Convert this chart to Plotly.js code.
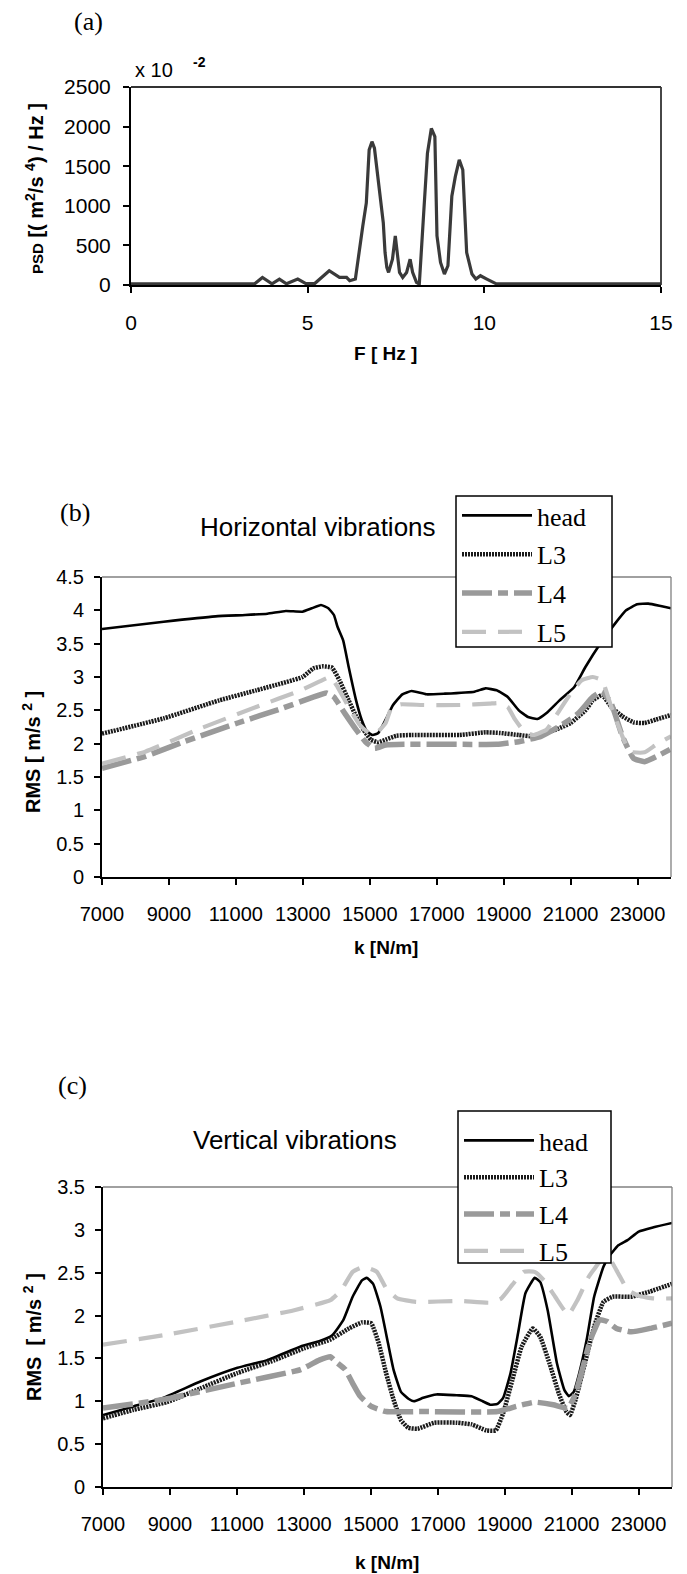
<!DOCTYPE html>
<html>
<head>
<meta charset="utf-8">
<script src="https://cdn.plot.ly/plotly-3.0.1.min.js"></script>
<style>
html,body{margin:0;padding:0;background:#fff;}
#chart{width:687px;height:1574px;}
</style>
</head>
<body>
<div id="chart"></div>
<script>
// ---------- Panel (a): PSD ----------
const psdFreq = [0, 1, 2, 3, 3.5, 3.72, 3.99, 4.2, 4.4, 4.72, 4.95, 5.2, 5.61, 5.9, 6.1, 6.19, 6.35, 6.56, 6.66, 6.74, 6.82, 6.89, 6.98, 7.08, 7.14, 7.19, 7.24, 7.29, 7.4, 7.48, 7.53, 7.6, 7.69, 7.8, 7.9, 7.97, 8.08, 8.16, 8.29, 8.39, 8.5, 8.6, 8.66, 8.76, 8.87, 8.97, 9.08, 9.18, 9.29, 9.39, 9.5, 9.65, 9.76, 9.89, 10.07, 10.23, 10.34, 11, 12, 13, 14, 15];
const psdVal = [15, 15, 15, 15, 15, 96, 15, 75, 15, 75, 18, 18, 180, 96, 96, 54, 75, 744, 1037, 1706, 1810, 1727, 1413, 1037, 786, 410, 222, 159, 326, 619, 410, 159, 96, 159, 326, 159, 33, 12, 953, 1664, 1977, 1873, 619, 284, 138, 243, 1120, 1371, 1580, 1455, 410, 138, 75, 117, 75, 33, 15, 15, 15, 15, 15, 15];

// ---------- Panel (b): Horizontal vibrations ----------
const hHeadK = [7000, 8845, 10392, 11277, 11940, 12492, 12990, 13266, 13542, 13763, 13929, 14039, 14205, 14370, 14591, 14757, 14923, 15089, 15254, 15475, 15696, 15973, 16249, 16691, 17244, 18127, 18459, 18791, 19123, 19453, 19730, 20006, 20282, 20669, 21111, 21443, 21885, 22327, 22658, 22990, 23321, 23652, 24000];
const hHeadV = [3.72, 3.83, 3.91, 3.93, 3.95, 3.99, 3.98, 4.03, 4.08, 4.03, 3.93, 3.75, 3.55, 3.15, 2.65, 2.36, 2.18, 2.13, 2.16, 2.36, 2.58, 2.74, 2.79, 2.74, 2.75, 2.78, 2.83, 2.80, 2.70, 2.50, 2.40, 2.37, 2.46, 2.65, 2.85, 3.15, 3.50, 3.80, 4.00, 4.09, 4.10, 4.07, 4.03];

const hL3K = [7000, 8845, 10503, 11608, 12990, 13321, 13597, 13873, 14094, 14370, 14591, 14812, 15033, 15254, 15475, 15807, 16249, 17685, 18459, 18901, 19453, 19895, 20558, 21000, 21443, 21664, 21940, 22217, 22548, 22880, 23211, 23542, 24000];
const hL3V = [2.15, 2.38, 2.65, 2.80, 3.00, 3.13, 3.16, 3.14, 2.95, 2.65, 2.41, 2.21, 2.06, 2.02, 2.06, 2.12, 2.13, 2.13, 2.17, 2.16, 2.13, 2.11, 2.21, 2.31, 2.50, 2.65, 2.73, 2.55, 2.41, 2.32, 2.31, 2.36, 2.43];

const hL4K = [7000, 8293, 9398, 11056, 12381, 13266, 13708, 13929, 14260, 14591, 14868, 15144, 15475, 16028, 17685, 18791, 19453, 20116, 20669, 21222, 21664, 21940, 22217, 22548, 22880, 23211, 23652, 24000];
const hL4V = [1.63, 1.81, 2.02, 2.31, 2.53, 2.69, 2.76, 2.70, 2.45, 2.21, 2.03, 1.93, 1.98, 1.99, 1.99, 1.99, 2.03, 2.11, 2.26, 2.45, 2.70, 2.78, 2.60, 2.11, 1.78, 1.73, 1.83, 1.92];

const hL5K = [7000, 8293, 9950, 11608, 12934, 13487, 13818, 14039, 14370, 14702, 14978, 15199, 15475, 15641, 15918, 16581, 17685, 18570, 18901, 19123, 19344, 19620, 19895, 20282, 20669, 21000, 21332, 21664, 21940, 22217, 22548, 22769, 23211, 23542, 24000];
const hL5V = [1.70, 1.88, 2.23, 2.55, 2.80, 2.93, 3.00, 2.85, 2.55, 2.28, 2.16, 2.16, 2.31, 2.53, 2.59, 2.58, 2.58, 2.60, 2.61, 2.55, 2.36, 2.18, 2.13, 2.21, 2.50, 2.75, 2.95, 3.00, 2.95, 2.55, 2.11, 1.88, 1.87, 1.98, 2.11];

// ---------- Panel (c): Vertical vibrations ----------
const vHeadK = [7000, 7910, 8798, 9908, 11018, 11906, 12905, 13460, 13849, 14182, 14459, 14737, 14881, 15070, 15292, 15514, 15680, 15902, 16124, 16291, 16568, 16957, 17567, 18011, 18344, 18566, 18788, 18955, 19177, 19399, 19621, 19898, 20065, 20287, 20564, 20786, 20919, 21064, 21230, 21452, 21674, 21952, 22118, 22396, 22673, 23006, 23450, 24000];
const vHeadV = [0.84, 0.94, 1.04, 1.23, 1.39, 1.48, 1.64, 1.70, 1.77, 1.95, 2.22, 2.41, 2.44, 2.37, 2.10, 1.68, 1.37, 1.11, 1.03, 1.00, 1.04, 1.08, 1.07, 1.06, 1.00, 0.96, 0.97, 1.04, 1.33, 1.79, 2.26, 2.44, 2.39, 2.06, 1.44, 1.13, 1.06, 1.11, 1.33, 1.72, 2.22, 2.57, 2.69, 2.82, 2.88, 2.98, 3.03, 3.08];

const vL3K = [7000, 7910, 8909, 9908, 11018, 12128, 13016, 13793, 14348, 14737, 15014, 15236, 15458, 15680, 15902, 16124, 16402, 16901, 17567, 18011, 18455, 18733, 18955, 19232, 19510, 19843, 20065, 20342, 20620, 20842, 20953, 21119, 21396, 21674, 21952, 22229, 22784, 23339, 24000];
const vL3V = [0.80, 0.90, 0.99, 1.15, 1.33, 1.48, 1.62, 1.72, 1.85, 1.92, 1.91, 1.68, 1.33, 1.02, 0.78, 0.69, 0.68, 0.75, 0.75, 0.73, 0.66, 0.66, 0.86, 1.25, 1.64, 1.85, 1.75, 1.44, 1.09, 0.88, 0.84, 1.02, 1.44, 1.87, 2.16, 2.22, 2.22, 2.28, 2.37];

const vL4K = [7000, 8798, 11018, 12905, 13460, 13793, 13960, 14237, 14459, 14681, 15014, 15458, 16568, 18788, 19343, 19898, 20453, 20897, 21119, 21341, 21563, 21841, 22063, 22340, 22784, 23339, 24000];
const vL4V = [0.92, 1.02, 1.21, 1.37, 1.48, 1.52, 1.46, 1.37, 1.21, 1.06, 0.94, 0.88, 0.88, 0.88, 0.94, 0.99, 0.96, 0.92, 1.09, 1.40, 1.72, 1.95, 1.93, 1.85, 1.81, 1.85, 1.91];

const vL5K = [7000, 8798, 11018, 12683, 13793, 14126, 14459, 14792, 15181, 15458, 15791, 16346, 17678, 18566, 18899, 19232, 19565, 19898, 20176, 20509, 20897, 21175, 21508, 21896, 22118, 22396, 22673, 23006, 23450, 24000];
const vL5V = [1.66, 1.77, 1.93, 2.06, 2.18, 2.30, 2.51, 2.57, 2.51, 2.32, 2.20, 2.16, 2.17, 2.15, 2.20, 2.36, 2.51, 2.51, 2.41, 2.22, 2.01, 2.18, 2.45, 2.65, 2.67, 2.49, 2.30, 2.23, 2.20, 2.20];

const seriesNames = ['head', 'L3', 'L4', 'L5'];
const kTickVals = [7000, 9000, 11000, 13000, 15000, 17000, 19000, 21000, 23000];
const kTickText = ['7000', '9000', '11000', '13000', '15000', '17000', '19000', '21000', '23000'];
const fTickVals = [0, 5, 10, 15];
const fTickText = ['0', '5', '10', '15'];

// ---------- layout helpers ----------
const W = 687, H = 1574;
const px = x => x / W;
const py = y => 1 - y / H;

const boxA = {l: 131, r: 661, t: 87, b: 285};
const boxB = {l: 102, r: 671, t: 577, b: 877};
const boxC = {l: 103, r: 672, t: 1187, b: 1487};
const legB = {l: 456, r: 612, t: 496, b: 647};
const legC = {l: 458, r: 611, t: 1111, b: 1263};

const SANS = 'Liberation Sans, Arial, sans-serif';
const SERIF = 'Liberation Serif, Times New Roman, serif';

const styles = [
  {color: '#000000', width: 2.6, dash: 'solid'},
  {color: '#1a1a1a', width: 4.5, dash: '2px,1px'},
  {color: '#9a9a9a', width: 5.5, dash: '30px,6px,10px,6px'},
  {color: '#c2c2c2', width: 4.2, dash: '24px,12px'}
];

function mkTrace(k, v, i, xa, ya, leg) {
  return {
    x: k, y: v, type: 'scatter', mode: 'lines', name: seriesNames[i],
    xaxis: xa, yaxis: ya, legend: leg, legendgroup: leg + i,
    line: {color: styles[i].color, width: styles[i].width, dash: styles[i].dash, shape: 'spline', smoothing: 0.4},
    hoverinfo: 'skip'
  };
}

const traces = [
  {x: psdFreq, y: psdVal, type: 'scatter', mode: 'lines', showlegend: false,
   xaxis: 'x', yaxis: 'y', line: {color: '#3a3a3a', width: 3.2}, hoverinfo: 'skip'},
  mkTrace(hHeadK, hHeadV, 0, 'x2', 'y2', 'legend'),
  mkTrace(hL3K, hL3V, 1, 'x2', 'y2', 'legend'),
  mkTrace(hL4K, hL4V, 2, 'x2', 'y2', 'legend'),
  mkTrace(hL5K, hL5V, 3, 'x2', 'y2', 'legend'),
  mkTrace(vHeadK, vHeadV, 0, 'x3', 'y3', 'legend2'),
  mkTrace(vL3K, vL3V, 1, 'x3', 'y3', 'legend2'),
  mkTrace(vL4K, vL4V, 2, 'x3', 'y3', 'legend2'),
  mkTrace(vL5K, vL5V, 3, 'x3', 'y3', 'legend2')
];

function xAx(box, range, tickvals, ticktext, fsize, anchor) {
  return {
    domain: [px(box.l), px(box.r)], anchor: anchor, range: range,
    tickmode: 'array', tickvals: tickvals, ticktext: ticktext, ticks: 'outside', ticklen: 6, tickwidth: 2, tickcolor: '#000',
    showline: true, linecolor: '#000', linewidth: 2, showgrid: false, zeroline: false,
    tickfont: {family: SANS, size: fsize, color: '#000'}, ticklabelstandoff: 12, fixedrange: true
  };
}
function yAx(box, range, dtick, fsize, anchor, standoff) {
  return {
    domain: [py(box.b), py(box.t)], anchor: anchor, range: range,
    tick0: 0, dtick: dtick, ticks: 'outside', ticklen: 6, tickwidth: 2, tickcolor: '#000',
    showline: true, linecolor: '#000', linewidth: 2, showgrid: false, zeroline: false,
    tickfont: {family: SANS, size: fsize, color: '#000'}, ticklabelstandoff: standoff, fixedrange: true
  };
}

function borderShapes(box, color, width) {
  return [
    {type: 'line', xref: 'paper', yref: 'paper', x0: px(box.l), x1: px(box.r), y0: py(box.t), y1: py(box.t), line: {color: color, width: width}, layer: 'above'},
    {type: 'line', xref: 'paper', yref: 'paper', x0: px(box.r), x1: px(box.r), y0: py(box.t), y1: py(box.b), line: {color: color, width: width}, layer: 'above'}
  ];
}
function legendBox(b) {
  return {type: 'rect', xref: 'paper', yref: 'paper', x0: px(b.l), x1: px(b.r), y0: py(b.b), y1: py(b.t),
          fillcolor: '#ffffff', line: {color: '#000000', width: 1.5}, layer: 'above'};
}

function ann(text, x, y, size, opts) {
  return Object.assign({
    text: text, xref: 'paper', yref: 'paper', x: px(x), y: py(y), showarrow: false,
    xanchor: 'center', yanchor: 'middle', font: {family: SANS, size: size, color: '#000'}
  }, opts || {});
}

const legendBase = {
  xref: 'paper', yref: 'paper', xanchor: 'left', yanchor: 'top',
  bgcolor: 'rgba(255,255,255,0)', borderwidth: 0,
  font: {family: SERIF, size: 26, color: '#000'},
  itemwidth: 70, traceorder: 'grouped'
};

const layout = {
  width: W, height: H, margin: {l: 0, r: 0, t: 0, b: 0},
  paper_bgcolor: '#fff', plot_bgcolor: 'rgba(0,0,0,0)',
  showlegend: true, hovermode: false,
  xaxis: xAx(boxA, [0, 15], fTickVals, fTickText, 21, 'y'),
  yaxis: yAx(boxA, [0, 2500], 500, 21, 'x', 8),
  xaxis2: xAx(boxB, [7000, 24000], kTickVals, kTickText, 20, 'y2'),
  yaxis2: yAx(boxB, [0, 4.5], 0.5, 20, 'x2', 6),
  xaxis3: xAx(boxC, [7000, 24000], kTickVals, kTickText, 20, 'y3'),
  yaxis3: yAx(boxC, [0, 3.5], 0.5, 20, 'x3', 6),
  legend: Object.assign({}, legendBase, {x: px(457), y: py(492), tracegroupgap: 2}),
  legend2: Object.assign({}, legendBase, {x: px(459), y: py(1117), tracegroupgap: 0}),
  shapes: [].concat(
    borderShapes(boxA, '#333333', 1.8),
    borderShapes(boxB, '#808080', 1.3),
    borderShapes(boxC, '#808080', 1.3),
    [legendBox(legB), legendBox(legC)]
  ),
  annotations: [
    ann('(a)', 89, 22, 26, {font: {family: SERIF, size: 26, color: '#000'}}),
    ann('x 10', 133, 70, 20, {xanchor: 'left'}),
    ann('<b>-2</b>', 191, 62, 14, {xanchor: 'left'}),
    ann('<b><span style="font-size:15px">PSD</span> [( m<sup>2</sup>/s <sup>4</sup>) / Hz ]</b>', 35, 189, 20, {textangle: -90}),
    ann('<b>F [ Hz ]</b>', 385, 353, 19),
    ann('(b)', 75, 512, 26, {font: {family: SERIF, size: 26, color: '#000'}}),
    ann('Horizontal vibrations', 318, 527, 26),
    ann('<b>RMS [ m/s <sup>2</sup> ]</b>', 31, 752, 20, {textangle: -90}),
    ann('<b>k [N/m]</b>', 386, 947, 19),
    ann('(c)', 72, 1085, 26, {font: {family: SERIF, size: 26, color: '#000'}}),
    ann('Vertical vibrations', 295, 1140, 26),
    ann('<b>RMS&nbsp; [ m/s <sup>2</sup> ]</b>', 32, 1337, 20, {textangle: -90}),
    ann('<b>k [N/m]</b>', 387, 1562, 19)
  ]
};

Plotly.newPlot('chart', traces, layout, {staticPlot: true, displayModeBar: false});
</script>
</body>
</html>
